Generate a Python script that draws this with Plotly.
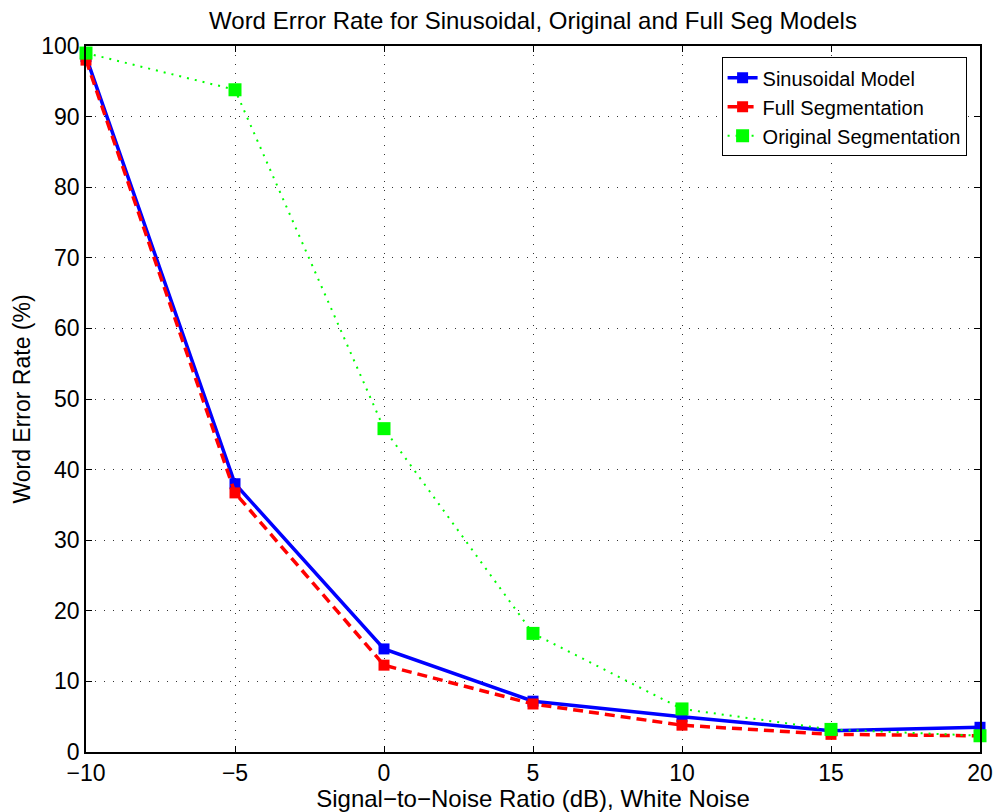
import plotly.graph_objects as go

snr = [-10, -5, 0, 5, 10, 15, 20]
sinusoidal = [98.5, 38.0, 14.6, 7.2, 5.0, 3.0, 3.5]
full_seg = [98.0, 36.7, 12.3, 6.8, 3.8, 2.5, 2.3]
orig_seg = [99.0, 93.8, 45.8, 16.8, 6.1, 3.2, 2.3]

FONT = "Liberation Sans, Arial, sans-serif"

fig = go.Figure()
fig.add_trace(go.Scatter(x=snr, y=sinusoidal, name="Sinusoidal Model", mode="lines+markers",
                         line=dict(color="#0000ff", width=3.5),
                         marker=dict(symbol="square", size=11, color="#0000ff"), cliponaxis=False))
fig.add_trace(go.Scatter(x=snr, y=full_seg, name="Full Segmentation", mode="lines+markers",
                         line=dict(color="#ff0000", width=3.5, dash="10px,6px"),
                         marker=dict(symbol="square", size=11, color="#ff0000"), cliponaxis=False))
fig.add_trace(go.Scatter(x=snr, y=orig_seg, name="Original Segmentation", mode="lines+markers",
                         line=dict(color="#00ff00", width=2, dash="2px,6px"),
                         marker=dict(symbol="square", size=13, color="#00ff00"), cliponaxis=False))

axis_common = dict(showline=True, linecolor="black", linewidth=1.5, mirror="allticks",
                   ticks="inside", ticklen=6, tickcolor="black", automargin=False,
                   showgrid=True, gridcolor="#333333", griddash="1px,8px", gridwidth=1,
                   zeroline=False, tickfont=dict(family=FONT, size=23, color="black"))

fig.update_layout(
    width=994, height=812,
    margin=dict(l=86, r=14, t=46, b=60),
    paper_bgcolor="white", plot_bgcolor="white",
    title=dict(text="Word Error Rate for Sinusoidal, Original and Full Seg Models",
               x=(86 + 980) / 2 / 994, xanchor="center", y=1 - 21 / 812, yanchor="middle",
               font=dict(family=FONT, size=24, color="black")),
    xaxis=dict(range=[-10, 20], tickvals=[-10, -5, 0, 5, 10, 15, 20],
               ticktext=["\u221210", "\u22125", "0", "5", "10", "15", "20"],
               title=dict(text="Signal\u2212to\u2212Noise Ratio (dB), White Noise",
                          font=dict(family=FONT, size=24, color="black"), standoff=0),
               **axis_common),
    yaxis=dict(range=[0, 100], tickvals=list(range(0, 101, 10)),
               title=dict(text="Word Error Rate (%)", font=dict(family=FONT, size=23, color="black"),
                          standoff=4),
               **axis_common),
    legend=dict(x=0.985, y=0.984, xanchor="right", yanchor="top",
                bgcolor="white", bordercolor="black", borderwidth=1,
                font=dict(family=FONT, size=20, color="black"),
                tracegroupgap=0, itemwidth=30),
    showlegend=True,
)

fig.write_html("out.html")
